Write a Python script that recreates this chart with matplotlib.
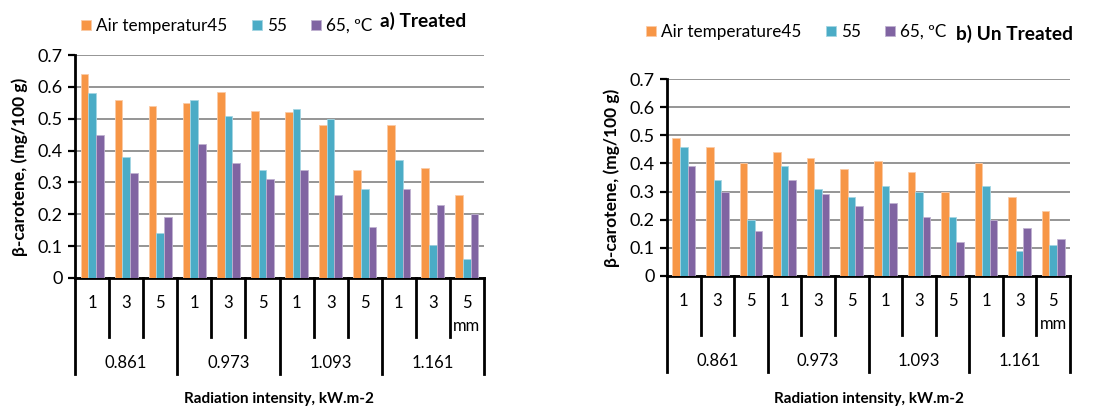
import numpy as np
import matplotlib
matplotlib.use("Agg")
import matplotlib.pyplot as plt
from matplotlib.transforms import blended_transform_factory

plt.rcParams['font.family'] = ['Lato', 'DejaVu Sans']

## Data
thickness = ["1", "3", "5"] * 4          # mm
intensity = ["0.861", "0.973", "1.093", "1.161"]   # kW.m-2

# Treated samples, beta-carotene (mg/100 g)
tr_45 = [0.64, 0.56, 0.54, 0.55, 0.585, 0.525, 0.52, 0.48, 0.34, 0.48, 0.345, 0.26]
tr_55 = [0.58, 0.38, 0.14, 0.56, 0.51, 0.34, 0.53, 0.50, 0.28, 0.37, 0.105, 0.06]
tr_65 = [0.45, 0.33, 0.19, 0.42, 0.36, 0.31, 0.34, 0.26, 0.16, 0.28, 0.23, 0.20]

# Untreated samples
un_45 = [0.49, 0.46, 0.40, 0.44, 0.42, 0.38, 0.41, 0.37, 0.30, 0.40, 0.28, 0.23]
un_55 = [0.46, 0.34, 0.20, 0.39, 0.31, 0.28, 0.32, 0.30, 0.21, 0.32, 0.09, 0.11]
un_65 = [0.39, 0.30, 0.16, 0.34, 0.29, 0.25, 0.26, 0.21, 0.12, 0.20, 0.17, 0.13]

colors = ["#F79646", "#4BACC6", "#8064A2"]
edges = ["#FBCBA6", "#A5D5E2", "#BFB1D0"]

W, H = 1099, 407
fig = plt.figure(figsize=(W/100, H/100), dpi=100)


def px_axes(x0, y0, x1, y1):
    # pixel box (top-left origin) -> figure fraction
    return fig.add_axes([x0/W, 1 - y1/H, (x1 - x0)/W, (y1 - y0)/H])


def draw_panel(ax, series, legend_names, title, title_xy, leg_xy, ylab_x, xlab_y):
    n = len(thickness)
    x = np.arange(n)
    bw = 0.225
    bars = []
    for i, (vals, c, e) in enumerate(zip(series, colors, edges)):
        b = ax.bar(x + (i - 1)*bw, vals, bw, color=c, edgecolor=e, linewidth=0.6, zorder=3)
        bars.append(b)

    ax.set_xlim(-0.5, n - 0.5)
    ax.set_ylim(0, 0.7)
    ax.set_yticks(np.arange(0, 0.71, 0.1))
    ax.set_yticklabels(["0", "0.1", "0.2", "0.3", "0.4", "0.5", "0.6", "0.7"])
    ax.yaxis.grid(True, color="#8C8C8C", linewidth=1.3, zorder=0)
    ax.set_xticks([])
    ax.tick_params(axis="y", length=5, width=1.6, labelsize=13, pad=4)
    for s in ["top", "right"]:
        ax.spines[s].set_visible(False)
    ax.spines["left"].set_linewidth(2)
    ax.spines["bottom"].set_linewidth(2)

    ax.set_ylabel("β-carotene, (mg/100 g)", fontsize=12.5, fontweight="bold")
    ax.yaxis.set_label_coords(ylab_x, 0.5)

    # two-level category axis drawn below the plot
    hpx = ax.get_position().height * H
    tr = blended_transform_factory(ax.transData, ax.transAxes)
    for k in range(n + 1):
        xb = k - 0.5
        depth = 96 if k % 3 == 0 else 59
        ax.plot([xb, xb], [0, -depth/hpx], color="black", lw=2, transform=tr, clip_on=False)
    for k, lab in enumerate(thickness):
        ax.text(k, -25/hpx, lab, ha="center", va="center", fontsize=12, transform=tr)
    ax.text(n - 1, -48/hpx, "mm", ha="center", va="center", fontsize=12, transform=tr)
    for g, lab in enumerate(intensity):
        ax.text(g*3 + 1, -85/hpx, lab, ha="center", va="center", fontsize=12, transform=tr)

    ax.text(0.5, -(xlab_y)/hpx, "Radiation intensity, kW.m-2", ha="center", va="center",
            fontsize=11, fontweight="bold", transform=ax.transAxes)

    fig.text(title_xy[0]/W, 1 - title_xy[1]/H, title, ha="left", va="center",
             fontsize=13.8, fontweight="bold")
    fig.legend(bars, legend_names, loc="center left",
               bbox_to_anchor=(leg_xy[0]/W, 1 - leg_xy[1]/H), ncol=3, frameon=False,
               fontsize=12.3, handlelength=0.6, handleheight=0.6, handletextpad=0.3,
               columnspacing=1.4, borderpad=0, borderaxespad=0)


ax1 = px_axes(75, 55, 484, 278)
draw_panel(ax1, [tr_45, tr_55, tr_65], ["Air temperatur45", "55", "65, ºC"],
           "a) Treated", (380, 21), (81, 26), -0.115, 121)

ax2 = px_axes(667, 79, 1070, 276)
draw_panel(ax2, [un_45, un_55, un_65], ["Air temperature45", "55", "65, ºC"],
           "b) Un Treated", (956, 34), (646, 32), -0.117, 123)

fig.savefig("out.png", dpi=100)
